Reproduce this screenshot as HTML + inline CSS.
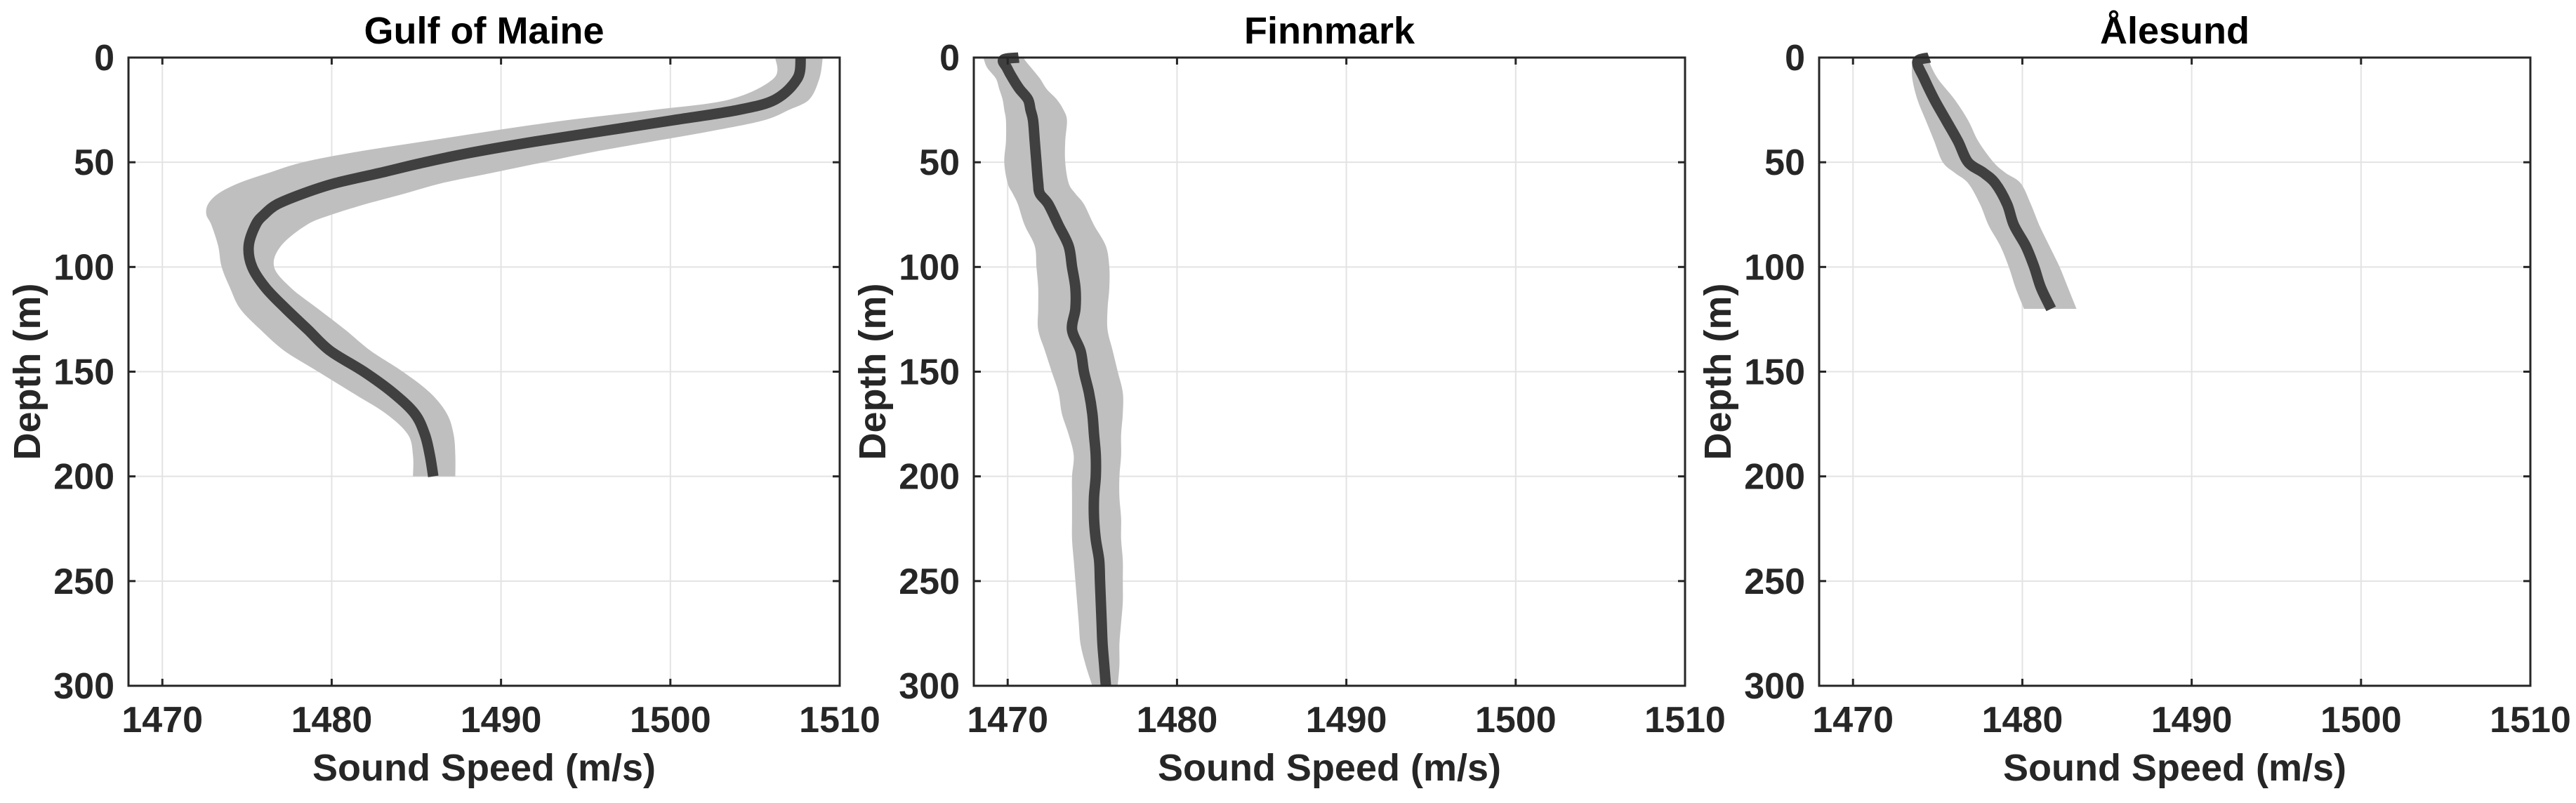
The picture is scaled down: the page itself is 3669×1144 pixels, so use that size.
<!DOCTYPE html>
<html><head><meta charset="utf-8"><style>
html,body{margin:0;padding:0;background:#fff;}
svg{display:block;}
text{font-family:"Liberation Sans",Arial,sans-serif;font-weight:bold;fill:#262626;}
</style></head><body>
<svg id="fig" width="3669" height="1144" viewBox="0 0 3669 1144" xmlns="http://www.w3.org/2000/svg"></svg>
<script>
// ---- data ----
const xTicks = [1470, 1480, 1490, 1500, 1510];
const yTicks = [0, 50, 100, 150, 200, 250, 300];
const titles = ["Gulf of Maine", "Finnmark", "Ålesund"];

const gomDepth = [0,10,20,25,30,35,40,45,50,55,60,65,70,75,80,90,100,110,120,130,140,150,160,170,180,190,200];
const gomMean  = [1507.7,1507.5,1506.2,1504,1500.1,1496.1,1492.1,1488.5,1485.5,1482.9,1480.2,1478.3,1476.8,1476,1475.5,1475.1,1475.3,1476.1,1477.3,1478.6,1479.9,1481.9,1483.6,1484.9,1485.5,1485.8,1486.0];
const gomLo    = [1506.2,1506.1,1503.5,1499,1493.8,1489.5,1485.5,1481.5,1478.3,1476.3,1474.5,1473.3,1472.7,1472.6,1472.9,1473.3,1473.5,1474.0,1474.6,1475.8,1477.2,1479.2,1481.2,1483.2,1484.5,1484.8,1484.8];
const gomHi    = [1509.0,1508.8,1508.2,1507,1505.5,1502.5,1499,1495.5,1492.5,1489.5,1486.5,1484.3,1482,1480,1478.5,1477.0,1476.6,1477.6,1479.2,1480.8,1482.3,1484.2,1485.8,1486.8,1487.2,1487.3,1487.3];

const finDepth = [0,1,5,10,15,20,25,30,40,50,60,65,70,80,90,100,110,120,130,140,150,160,170,180,190,200,210,220,230,240,250,260,270,280,290,300];
const finMean  = [1470.65,1469.75,1469.96,1470.3,1470.7,1471.2,1471.35,1471.5,1471.6,1471.7,1471.8,1471.9,1472.4,1473.0,1473.6,1473.8,1474.0,1474.0,1473.8,1474.3,1474.5,1474.8,1475.0,1475.1,1475.2,1475.2,1475.1,1475.1,1475.2,1475.4,1475.45,1475.5,1475.55,1475.6,1475.7,1475.8];
const finLo    = [1468.6,1468.6,1468.8,1469.3,1469.5,1469.7,1469.8,1469.9,1469.9,1469.8,1470.0,1470.3,1470.6,1471.0,1471.6,1471.7,1471.8,1471.8,1471.8,1472.2,1472.6,1473.0,1473.2,1473.6,1473.9,1473.8,1473.8,1473.8,1473.8,1473.9,1474.0,1474.1,1474.2,1474.3,1474.6,1475.0];
const finHi    = [1471.0,1471.0,1471.4,1471.9,1472.3,1472.9,1473.3,1473.5,1473.4,1473.4,1473.6,1474.0,1474.5,1475.1,1475.8,1476.0,1476.0,1475.9,1475.9,1476.2,1476.5,1476.8,1476.8,1476.7,1476.7,1476.6,1476.6,1476.7,1476.7,1476.8,1476.8,1476.8,1476.7,1476.6,1476.6,1476.5];

const aleDepth = [0,2,10,20,30,40,50,55,60,70,80,90,100,110,120];
const aleMean  = [1474.5,1473.8,1474.2,1474.8,1475.5,1476.2,1476.8,1477.7,1478.4,1479.1,1479.5,1480.2,1480.7,1481.1,1481.7];
const aleLo    = [1473.6,1473.5,1473.5,1473.8,1474.3,1474.8,1475.3,1476.0,1476.8,1477.5,1478.0,1478.7,1479.2,1479.6,1480.1];
const aleHi    = [1474.5,1474.5,1475.0,1476.0,1476.8,1477.4,1478.3,1479.0,1479.9,1480.5,1481.0,1481.6,1482.2,1482.7,1483.2];

const series = [
  {depth:gomDepth, mean:gomMean, lo:gomLo, hi:gomHi},
  {depth:finDepth, mean:finMean, lo:finLo, hi:finHi},
  {depth:aleDepth, mean:aleMean, lo:aleLo, hi:aleHi}
];
// ---- layout ----
const NS = "http://www.w3.org/2000/svg";
const svg = document.getElementById("fig");
const X0 = 1468, X1 = 1510, Y0 = 0, Y1 = 300;
const PW = 1013, TOP = 82, BOT = 977, STEP = 1204, LEFT0 = 183;
function mk(tag, attrs, parent){ const e=document.createElementNS(NS,tag); for(const k in attrs) e.setAttribute(k,attrs[k]); (parent||svg).appendChild(e); return e; }
// Catmull-Rom smoothed path through points
function smooth(p, start){
  let d = start ? "M"+p[0][0].toFixed(1)+","+p[0][1].toFixed(1) : "L"+p[0][0].toFixed(1)+","+p[0][1].toFixed(1);
  for(let i=0;i<p.length-1;i++){
    const p0=p[Math.max(0,i-1)], p1=p[i], p2=p[i+1], p3=p[Math.min(p.length-1,i+2)];
    const c1=[p1[0]+(p2[0]-p0[0])/6, p1[1]+(p2[1]-p0[1])/6];
    const c2=[p2[0]-(p3[0]-p1[0])/6, p2[1]-(p3[1]-p1[1])/6];
    d += " C"+c1[0].toFixed(1)+","+c1[1].toFixed(1)+" "+c2[0].toFixed(1)+","+c2[1].toFixed(1)+" "+p2[0].toFixed(1)+","+p2[1].toFixed(1);
  }
  return d;
}

series.forEach((s, i) => {
  const L = LEFT0 + i*STEP, R = L + PW;
  const sx = v => L + (v - X0) / (X1 - X0) * PW;
  const sy = d => TOP + (d - Y0) / (Y1 - Y0) * (BOT - TOP);
  const g = mk("g", {});
  
  
  xTicks.forEach(t => { const x=sx(t); const l=mk("line",{x1:x,x2:x,y1:TOP,y2:BOT,stroke:"#e3e3e3","stroke-width":2},g);
      });
  yTicks.forEach(t => { const y=sy(t); const l=mk("line",{x1:L,x2:R,y1:y,y2:y,stroke:"#e3e3e3","stroke-width":2},g);
      });
  const loPts = s.depth.map((d,k)=>[sx(s.lo[k]), sy(d)]);
  const hiPts = s.depth.map((d,k)=>[sx(s.hi[k]), sy(d)]).reverse();
  const band = mk("path",{d:smooth(loPts,true)+" "+smooth(hiPts,false)+" Z",fill:"#bfbfbf",stroke:"none"},g);
   
  const mPts = s.depth.map((d,k)=>[sx(s.mean[k]), sy(d)]);
  const ln = mk("path",{d:smooth(mPts,true),fill:"none",stroke:"#404040","stroke-width":15,"stroke-linejoin":"round"},g);
   
  xTicks.forEach(t => { const x=sx(t);
    mk("line",{x1:x,x2:x,y1:BOT,y2:BOT-10,stroke:"#262626","stroke-width":3},g);
    mk("line",{x1:x,x2:x,y1:TOP,y2:TOP+10,stroke:"#262626","stroke-width":3},g);
    const tx=mk("text",{x:x,y:1043,"font-size":52,"text-anchor":"middle"},g); tx.textContent=t;
      });
  yTicks.forEach(t => { const y=sy(t);
    mk("line",{x1:L,x2:L+10,y1:y,y2:y,stroke:"#262626","stroke-width":3},g);
    mk("line",{x1:R,x2:R-10,y1:y,y2:y,stroke:"#262626","stroke-width":3},g);
    const tx=mk("text",{x:L-20,y:y+18,"font-size":52,"text-anchor":"end"},g); tx.textContent=t;
      });
  const box = mk("rect",{x:L,y:TOP,width:PW,height:BOT-TOP,fill:"none",stroke:"#262626","stroke-width":3},g);
   
  const ti = mk("text",{x:L+PW/2,y:62,"font-size":54,"text-anchor":"middle",style:"fill:#000"},g); ti.textContent=titles[i];
   
  const xl = mk("text",{x:L+PW/2,y:1112,"font-size":54,"text-anchor":"middle"},g); xl.textContent="Sound Speed (m/s)";
   
  const yx = L-126, yy = (TOP+BOT)/2;
  const yl = mk("text",{x:yx,y:yy,"font-size":54,"text-anchor":"middle",transform:`rotate(-90 ${yx} ${yy})`},g); yl.textContent="Depth (m)";
   
});
</script>
</body></html>
